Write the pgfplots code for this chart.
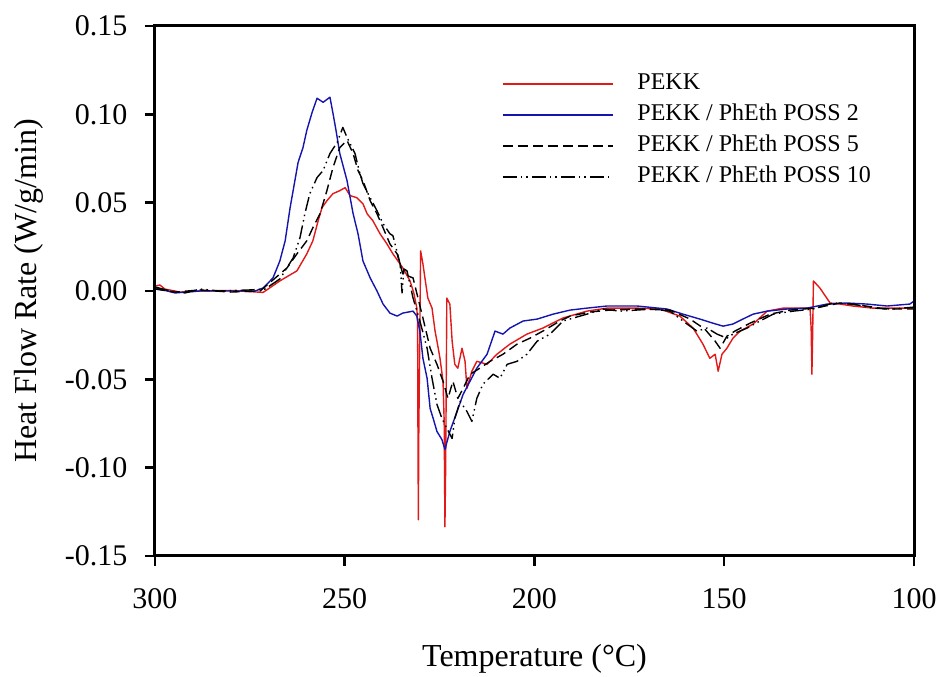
\documentclass[border=0pt]{standalone}
\usepackage{fontspec}
\setmainfont{Liberation Serif}
\usepackage{pgfplots}
\pgfplotsset{compat=1.18}
\definecolor{cred}{RGB}{225,25,25}
\definecolor{cblue}{RGB}{20,20,175}
\begin{document}
\begin{tikzpicture}[x=1pt,y=1pt]
\begin{axis}[
  at={(155pt,121pt)}, anchor=south west,
  scale only axis, width=759pt, height=530pt,
  x dir=reverse, xmin=100, xmax=300, ymin=-0.15, ymax=0.15,
  xtick={100,150,200,250,300},
  ytick={-0.15,-0.1,-0.05,0,0.05,0.1,0.15},
  clip=false,
  axis line style={draw=none},
  tick style={line width=2.5pt, black},
  tick align=outside, xtick pos=left, ytick pos=left,
  major tick length=10pt,
  /pgf/number format/assume math mode=true,
  yticklabel style={/pgf/number format/fixed, /pgf/number format/fixed zerofill, /pgf/number format/precision=2, xshift=-14pt},
  ticklabel style={font=\fontsize{30}{36}\selectfont},
  xticklabel style={yshift=-19pt},
  xlabel={Temperature (\textdegree C)},
  ylabel={Heat Flow Rate (W/g/min)},
  label style={font=\fontsize{32}{38}\selectfont},
  xlabel style={at={(axis description cs:0.5,-0.2094)}, anchor=base},
  ylabel style={at={(axis description cs:-0.1555,0.5)}, anchor=base},
  legend image code/.code={\draw[#1] (0pt,0pt) -- (110pt,0pt);},
  legend style={at={(axis description cs:0.457,0.911)}, anchor=north west,
    draw=none, fill=none, inner sep=0pt, row sep=10pt,
    font=\fontsize{24}{28}\selectfont,
    nodes={text height=16pt, text depth=5pt, inner sep=0pt},
    /tikz/every odd column/.append style={column sep=24pt},
    cells={anchor=west}},
  legend entries={PEKK, PEKK / PhEth POSS 2, PEKK / PhEth POSS 5, PEKK / PhEth POSS 10},
  every axis plot/.append style={line width=1.4pt, line join=round},
]
% PEKK (red)
\addplot[cred] table {
300 0.0028
298.7 0.0034
297.4 0.0011
293.4 -0.0006
288.1 0
280 0.0003
271.5 -0.0008
267.1 0.0057
262.6 0.0114
260.0 0.0210
258.4 0.0284
257.0 0.0398
256.0 0.0471
254.7 0.0511
253.1 0.0551
251.3 0.0568
249.9 0.0585
248.6 0.0540
246.8 0.0528
245.2 0.0494
244.1 0.0437
242.6 0.0398
240.7 0.0324
238.9 0.0267
237.3 0.0210
234.7 0.0131
232.8 0.0057
231.8 -0.0011
231.0 -0.0097
230.8 -0.0187
230.7 -0.0835
230.6 -0.1295
230.5 -0.0835
230.0 0.0227
229.4 0.0153
228.1 -0.0040
227.0 -0.0097
226.2 -0.0227
225.7 -0.0284
224.9 -0.0381
224.1 -0.0511
223.8 -0.0738
223.6 -0.1335
223.4 -0.0983
223.1 -0.0040
222.3 -0.0074
221.7 -0.0284
221.0 -0.0415
220.2 -0.0437
219.1 -0.0324
218.3 -0.0398
217.8 -0.0551
216.5 -0.0454
215.2 -0.0398
212.5 -0.0415
209.9 -0.0358
206.5 -0.0301
202.0 -0.0244
197.8 -0.0210
192.5 -0.0153
186.2 -0.0114
180.9 -0.0097
173.0 -0.0097
166.9 -0.0102
161.7 -0.0142
158.2 -0.0210
155.6 -0.0301
153.8 -0.0381
152.4 -0.0358
151.6 -0.0454
150.6 -0.0358
149.3 -0.0324
147.7 -0.0267
145.8 -0.0227
142.4 -0.0187
138.7 -0.0114
134.5 -0.0097
130.0 -0.0097
127.4 -0.0097
127.1 -0.0210
126.9 -0.0471
126.7 -0.0239
126.5 0.0057
124.8 0.0017
122.1 -0.0068
119.5 -0.0074
116.1 -0.0085
110.8 -0.0097
105.5 -0.0097
100 -0.0097
};
% PEKK / PhEth POSS 2 (blue)
\addplot[cblue] table {
300 0.0017
294.7 -0.0011
288.1 0
273.6 0
271.5 0.0017
268.9 0.0074
267.1 0.0170
265.7 0.0284
264.4 0.0471
263.6 0.0568
262.3 0.0727
261.0 0.0812
260.0 0.0909
258.6 0.1011
257.3 0.1091
255.7 0.1068
253.9 0.1097
253.1 0.1006
252.3 0.0909
251.3 0.0778
249.4 0.0625
247.8 0.0438
246.5 0.0324
245.2 0.0170
243.3 0.0074
241.5 0
239.9 -0.0074
238.1 -0.0125
236.2 -0.0142
234.7 -0.0125
232.0 -0.0114
231.0 -0.0142
230.2 -0.0227
229.4 -0.0381
228.3 -0.0494
227.5 -0.0665
226.7 -0.0721
225.7 -0.0795
224.4 -0.0841
223.6 -0.0897
222.3 -0.0795
220.4 -0.0682
218.8 -0.0585
217.0 -0.0511
215.2 -0.0437
212.5 -0.0358
210.4 -0.0227
208.3 -0.0244
206.5 -0.0210
203.0 -0.0170
199.3 -0.0159
195.1 -0.0131
190.6 -0.0108
186.2 -0.0097
180.9 -0.0085
173.0 -0.0085
165.1 -0.0102
160.9 -0.0131
156.4 -0.0159
153.0 -0.0182
150.3 -0.0199
147.7 -0.0187
145.1 -0.0159
142.4 -0.0131
138.7 -0.0114
133.5 -0.0102
128.2 -0.0097
122.9 -0.0074
117.7 -0.0068
112.4 -0.0074
107.1 -0.0085
101.1 -0.0074
100 -0.0057
};
% PEKK / PhEth POSS 5 (dashed)
\addplot[black, dash pattern=on 10pt off 5pt] table {
300 0.0011
294.7 -0.0006
288.1 0.0006
280.2 -0.0006
272.3 0
265.2 0.0131
262.6 0.0210
260.0 0.0284
258.4 0.0358
256.5 0.0438
254.7 0.0568
253.1 0.0699
251.3 0.0812
249.4 0.0852
247.8 0.0778
246.5 0.0682
245.2 0.0625
243.3 0.0511
241.5 0.0437
239.9 0.0358
238.1 0.0267
236.2 0.0210
234.7 0.0097
232.0 0.0074
229.4 -0.0153
227.5 -0.0324
225.7 -0.0415
224.1 -0.0511
222.8 -0.0608
221.5 -0.0511
220.2 -0.0608
218.8 -0.0551
217.0 -0.0472
214.4 -0.0437
211.7 -0.0398
208.3 -0.0358
204.6 -0.0301
201.2 -0.0267
197.8 -0.0227
193.3 -0.0170
190.6 -0.0142
185.4 -0.0119
180.1 -0.0108
172.2 -0.0102
164.3 -0.0108
159.0 -0.0159
155.1 -0.0216
152.4 -0.0284
151.1 -0.0324
149.3 -0.0256
147.2 -0.0227
143.2 -0.0182
137.9 -0.0131
132.7 -0.0108
126.1 -0.0097
119.5 -0.0068
114.2 -0.0080
107.6 -0.0102
100 -0.0102
};
% PEKK / PhEth POSS 10 (dash dot dot)
\addplot[black, dash pattern=on 14pt off 4pt on 1.5pt off 4pt on 1.5pt off 4pt] table {
300 0.0023
296.0 0
292.1 -0.0011
288.1 0.0011
282.9 0
275.0 0.0006
271.0 0.0011
267.1 0.0068
263.6 0.0187
261.8 0.0301
260.5 0.0438
259.2 0.0551
257.3 0.0642
255.7 0.0682
253.9 0.0778
252.0 0.0841
250.5 0.0926
249.4 0.0869
248.6 0.0835
247.3 0.0778
246.0 0.0665
245.2 0.0608
243.3 0.0528
241.5 0.0454
239.9 0.0381
238.1 0.0324
237.3 0.0313
235.4 0.0153
234.9 -0.0011
234.4 0.0125
233.6 0.0114
232.0 -0.0040
230.2 -0.0170
228.3 -0.0324
227.0 -0.0494
225.7 -0.0642
224.4 -0.0721
223.1 -0.0778
221.7 -0.0835
221.0 -0.0721
219.6 -0.0625
217.8 -0.0682
216.5 -0.0738
215.2 -0.0608
213.6 -0.0528
210.9 -0.0471
209.1 -0.0494
207.2 -0.0415
204.6 -0.0398
202.0 -0.0358
199.3 -0.0284
195.9 -0.0244
192.5 -0.0170
186.2 -0.0131
182.0 -0.0102
177.5 -0.0114
168.8 -0.0102
164.3 -0.0114
159.8 -0.0187
157.2 -0.0227
154.5 -0.0210
151.9 -0.0244
149.3 -0.0267
147.7 -0.0244
144.0 -0.0210
140.6 -0.0170
137.1 -0.0131
131.9 -0.0114
126.6 -0.0102
121.3 -0.0068
116.1 -0.0074
110.8 -0.0097
105.5 -0.0102
100 -0.0091
};
\draw[black, line width=3pt, line join=miter] (rel axis cs:0,0) rectangle (rel axis cs:1,1);
\end{axis}
\pgfresetboundingbox
\path (0,0) rectangle (942,677);
\end{tikzpicture}
\end{document}
